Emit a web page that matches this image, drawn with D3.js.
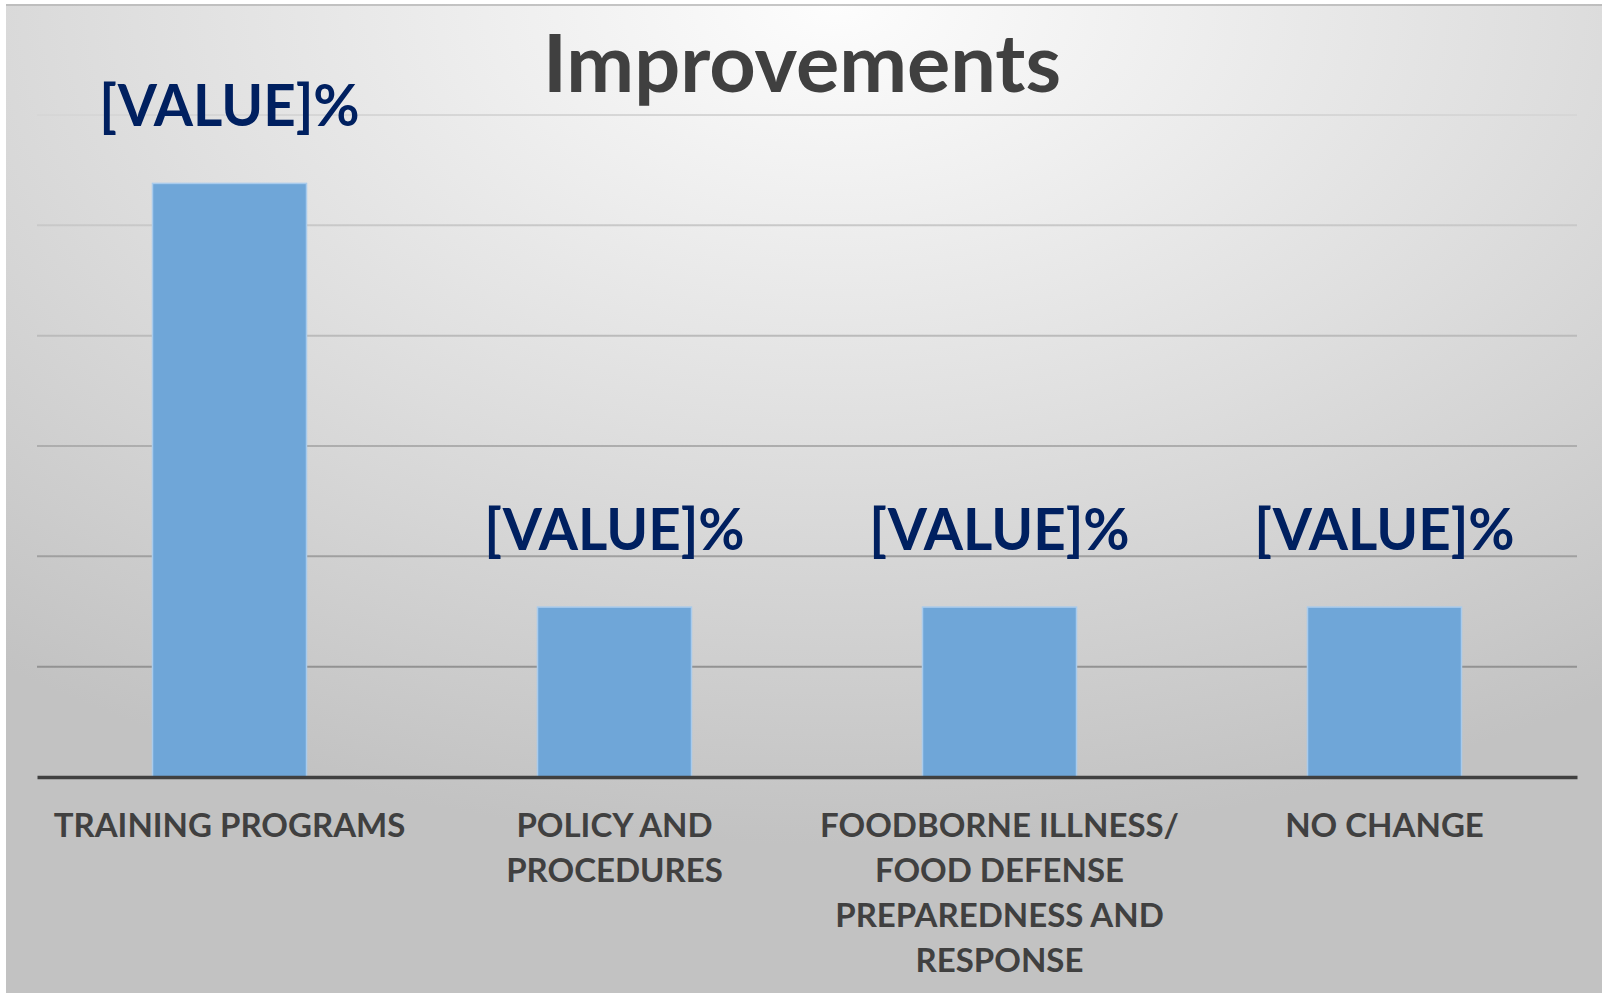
<!DOCTYPE html>
<html>
<head>
<meta charset="utf-8">
<script src="https://cdn.jsdelivr.net/npm/d3@7"></script>
<style>
  body { margin: 0; background: #fff; }
  svg { display: block; }
</style>
</head>
<body>
<svg id="chart" width="1602" height="993"></svg>
<script>
// data (7/13 and 2/13 of the answers)
var categories = ["TRAINING PROGRAMS", "POLICY AND\nPROCEDURES",
                  "FOODBORNE ILLNESS/\nFOOD DEFENSE\nPREPAREDNESS AND\nRESPONSE", "NO CHANGE"];
var values = [53.8, 15.4, 15.4, 15.4];
var labels = ["[VALUE]%", "[VALUE]%", "[VALUE]%", "[VALUE]%"];
var yTicks = [0, 10, 20, 30, 40, 50, 60];
var title = "Improvements";

var font = "Lato, 'Open Sans', sans-serif";

function drawChart()
{
  var svg = d3.select("#chart");
  var defs = svg.append("defs");

  var bg = defs.append("radialGradient")
      .attr("id", "bg")
      .attr("cx", "0.52").attr("cy", "0.0")
      .attr("r", "0.85");
  bg.append("stop").attr("offset", "0").attr("stop-color", "#fdfdfd");
  bg.append("stop").attr("offset", "0.5").attr("stop-color", "#e0e0e0");
  bg.append("stop").attr("offset", "1").attr("stop-color", "#c2c2c2");

  var grid = defs.append("linearGradient")
      .attr("id", "gridline")
      .attr("gradientUnits", "userSpaceOnUse")
      .attr("x1", 0).attr("y1", 100).attr("x2", 0).attr("y2", 700);
  grid.append("stop").attr("offset", "0").attr("stop-color", "#d8d8d8");
  grid.append("stop").attr("offset", "1").attr("stop-color", "#8e8e8e");

  /* chart area */
  svg.append("rect")
      .attr("x", 6).attr("y", 4)
      .attr("width", 1596).attr("height", 989)
      .attr("fill", "url(#bg)");
  svg.append("line")
      .attr("x1", 6).attr("x2", 1602)
      .attr("y1", 5).attr("y2", 5)
      .attr("stroke", "#b4b4b4")
      .attr("stroke-width", 1.5);

  var x = d3.scaleBand()
      .domain(categories)
      .range([37, 1577])
      .paddingInner(0.6)
      .paddingOuter(0.3);

  var y = d3.scaleLinear()
      .domain([0, 60])
      .range([777, 115]);

  /* gridlines */
  svg.append("g")
      .attr("class", "grid")
      .selectAll("line")
      .data(yTicks.slice(1))
      .enter().append("line")
      .attr("x1", 37).attr("x2", 1577)
      .attr("y1", function(d) { return y(d); })
      .attr("y2", function(d) { return y(d); })
      .attr("stroke", "url(#gridline)")
      .attr("stroke-width", 2);

  /* bars */
  svg.append("g")
      .selectAll("rect")
      .data(values)
      .enter().append("rect")
      .attr("x", function(d, i) { return x(categories[i]); })
      .attr("y", function(d) { return y(d); })
      .attr("width", x.bandwidth())
      .attr("height", function(d) { return y(0) - y(d); })
      .attr("fill", "#6fa6d8")
      .attr("stroke", "#a9cbec")
      .attr("stroke-width", 1.5);

  /* x axis */
  var xAxis = svg.append("g")
      .attr("class", "xAxis")
      .attr("transform", "translate(0," + y(0) + ")")
      .call(d3.axisBottom(x).tickSize(0).tickFormat(""));
  xAxis.select(".domain")
      .attr("stroke", "#404040")
      .attr("stroke-width", 3.5);

  xAxis.selectAll(".tick text").remove();
  xAxis.selectAll(".tick")
      .append("text")
      .attr("fill", "#404040")
      .attr("font-family", font)
      .attr("font-weight", "bold")
      .attr("font-size", 33)
      .attr("text-anchor", "middle")
      .selectAll("tspan")
      .data(function(d) { return d.split("\n"); })
      .enter().append("tspan")
      .attr("x", 0)
      .attr("y", function(d, i) { return 60 + i * 45; })
      .text(function(d) { return d; });

  /* data labels */
  svg.append("g")
      .selectAll("text")
      .data(values)
      .enter().append("text")
      .attr("x", function(d, i) { return x(categories[i]) + x.bandwidth() / 2; })
      .attr("y", function(d) { return y(d) - 57; })
      .attr("text-anchor", "middle")
      .attr("fill", "#002060")
      .attr("font-family", font)
      .attr("font-weight", "bold")
      .attr("font-size", 56.5)
      .text(function(d, i) { return labels[i]; });

  /* title */
  svg.append("text")
      .attr("x", 802)
      .attr("y", 92)
      .attr("text-anchor", "middle")
      .attr("fill", "#404040")
      .attr("font-family", font)
      .attr("font-weight", "bold")
      .attr("font-size", 81)
      .text(title);
}

drawChart();
</script>
</body>
</html>
